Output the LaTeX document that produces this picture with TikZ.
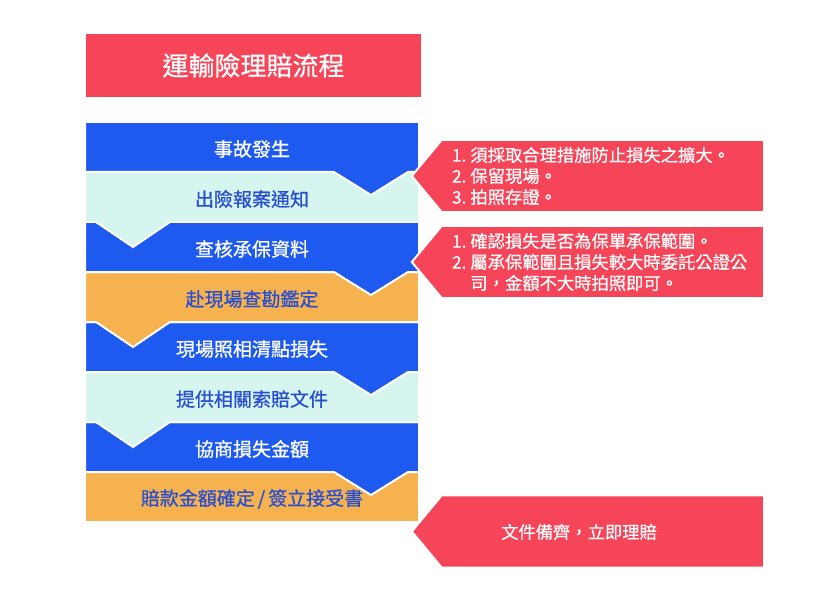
\documentclass[tikz,border=0pt]{standalone}
\usepackage{fontspec}
\setmainfont{Noto Sans CJK TC}[FakeBold=0.7]
\usetikzlibrary{positioning,calc}
\definecolor{barblue}{RGB}{31,90,240}
\definecolor{barmint}{RGB}{214,245,238}
\definecolor{barorange}{RGB}{245,178,78}
\definecolor{notered}{RGB}{246,68,88}
\definecolor{txtblue}{RGB}{40,78,210}

\begin{document}
\begin{tikzpicture}[
x=1pt, y=-1pt,
bar/.style={
  draw=white,
  line width=2pt,
  line join=miter
  },
barlbl/.style={
  font=\fontsize{19}{21}\selectfont,
  inner sep=0pt
  },
note/.style={
  fill=notered,
  minimum width=322pt,
  minimum height=72pt,
  text width=302pt,
  inner xsep=10pt,
  text=white,
  align=left,
  font=\fontsize{17.3}{21}\selectfont
  },
tip/.style={
  fill=notered
  },
rim/.style={
  draw=white,
  line width=2pt,
  line join=miter
  }
]
\useasboundingbox (0,0) rectangle (835,596);

\node[fill=notered, minimum width=335pt, minimum height=63pt, inner sep=0pt,
  text=white, font=\fontsize{26}{28}\selectfont] (title) at (253.5,65.5) {運輸險理賠流程};

\foreach \k/\col/\txt/\ax/\dep/\lbl in {
  8/barorange/txtblue/252/0/{賠款金額確定\hspace{3pt}/\hspace{3pt}簽立接受書},
  7/barblue/white/371/23/協商損失金額,
  6/barmint/txtblue/133/25/提供相關索賠文件,
  5/barblue/white/371/23/現場照相清點損失,
  4/barorange/txtblue/133/25/赴現場查勘鑑定,
  3/barblue/white/371/23/查核承保資料,
  2/barmint/txtblue/133/25/出險報案通知,
  1/barblue/white/371/23/事故發生}
{
  \pgfmathsetmacro\t{122+50*(\k-1)}
  \pgfmathsetmacro\b{\t+50}
  \fill[bar, fill=\col] (85,\t) -- (419,\t) -- (419,\b) -- (\ax+37,\b)
    -- (\ax,\b+\dep) -- (\ax-37,\b) -- (85,\b) -- cycle;
  \node[barlbl, text=\txt] (lbl\k) at (252,\t+27) {\lbl};
}

\node[note] (note1) at (603,176) {1.\hspace{4pt}須採取合理措施防止損失之擴大。\\2.\hspace{4pt}保留現場。\\3.\hspace{4pt}拍照存證。};
\node[note] (note2) at (603,262) {1.\hspace{4pt}確認損失是否為保單承保範圍。\\2.\hspace{4pt}屬承保範圍且損失較大時委託公證公\\\phantom{2.}\hspace{4pt}司，金額不大時拍照即可。};
\node[note] (note3) at (603,531.5) {};
\node[text=white, font=\fontsize{17.3}{21}\selectfont, inner sep=0pt] (note3txt) at (579,532) {文件備齊，立即理賠};

\foreach \n in {1,2,3}
{
  \fill[tip] ([xshift=1pt]note\n.north west) -- ([xshift=-30pt]note\n.west)
    -- ([xshift=1pt]note\n.south west) -- cycle;
  \draw[rim] (note\n.north east) -- (note\n.north west) -- ([xshift=-30pt]note\n.west)
    -- (note\n.south west) -- (note\n.south east) -- cycle;
}

\end{tikzpicture}
\end{document}
